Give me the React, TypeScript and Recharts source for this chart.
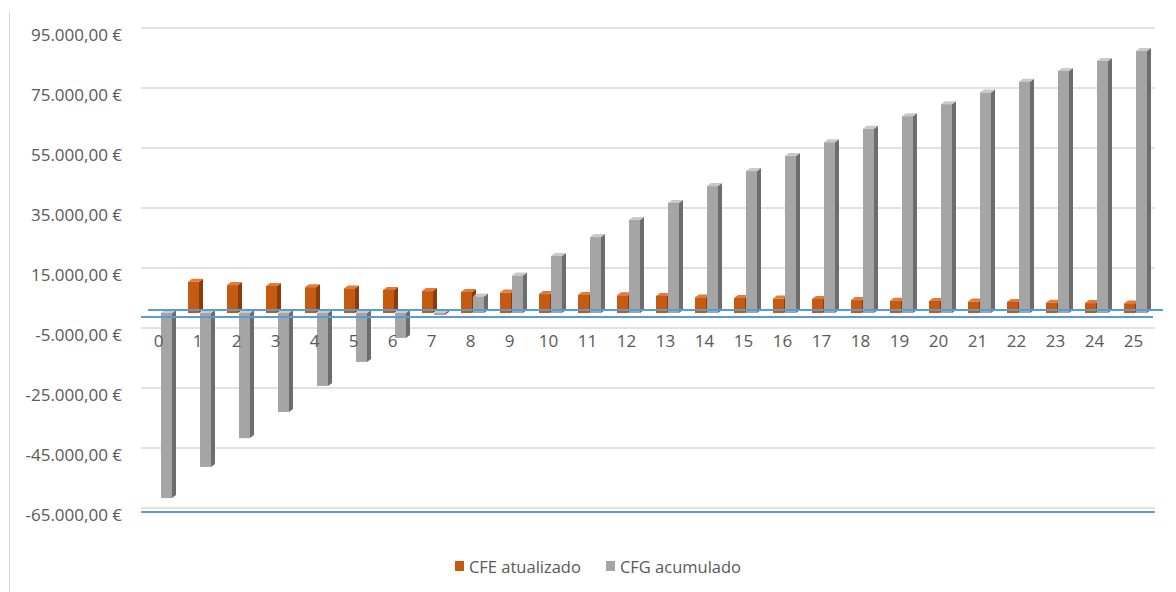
import { BarChart, Bar, XAxis, YAxis, CartesianGrid, Legend, ReferenceLine } from 'recharts';

// anos do projeto
const anos = ['0', '1', '2', '3', '4', '5', '6', '7', '8', '9', '10', '11', '12', '13', '14', '15', '16', '17', '18', '19', '20', '21', '22', '23', '24', '25'];

// cash-flow de exploração atualizado (ano 0 sem valor)
const cfeAtualizado = [null, 10400, 9300, 9000, 8600, 8200, 7700, 7300, 7000, 6800, 6300, 6000, 5900, 5700, 5200, 5000, 4800, 4700, 4300, 4100, 4000, 3800, 3700, 3400, 3300, 3200];

// cash-flow global acumulado
const cfgAcumulado = [-61700, -51300, -41700, -33000, -24300, -16300, -8300, -700, 5500, 12500, 19000, 25300, 31000, 36700, 42300, 47300, 52300, 56900, 61400, 65600, 69600, 73500, 77100, 80700, 84000, 87300];

const yTicks = [-65000, -45000, -25000, -5000, 15000, 35000, 55000, 75000, 95000];

const Y_MIN = -65000;
const Y_MAX = 95000;

const CHART_W = 1168;
const CHART_H = 584;
const MARGIN = { top: 20, right: 21, left: 0, bottom: 14 };
const X_AXIS_H = 46;
const LEGEND_H = 24;
const PLOT_H = CHART_H - MARGIN.top - MARGIN.bottom - X_AXIS_H - LEGEND_H;

const FONT = '"Open Sans", sans-serif';
const TEXT = '#595959';
const GRID = '#d9d9d9';
const BLUE = '#5b9bd5';

const LARANJA = { front: '#c55a11', side: '#8a3c0a', top: '#e07b3c' };
const CINZA = { front: '#a5a5a5', side: '#6d6d6d', top: '#c9c9c9' };

const data = anos.map((ano, i) => ({
  ano,
  cfe: cfeAtualizado[i],
  cfg: cfgAcumulado[i],
}));

const formatEuro = (v: number) => {
  const [int, dec] = Math.abs(v).toFixed(2).split('.');
  const grouped = int.replace(/\B(?=(\d{3})+(?!\d))/g, '.');
  return `${v < 0 ? '-' : ''}${grouped},${dec} €`;
};

// coluna com face lateral e topo, estilo gráfico 3D do Excel
function Coluna3D(props: any) {
  const { x, y, width, height, colors } = props;
  if (x == null || !width || height == null) return null;
  const h = Math.abs(height);
  const y0 = height < 0 ? y + height : y;
  const dx = 4;
  const dy = 3;
  return (
    <g>
      <polygon
        points={`${x + width},${y0} ${x + width + dx},${y0 - dy} ${x + width + dx},${y0 + h - dy} ${x + width},${y0 + h}`}
        fill={colors.side}
      />
      <polygon
        points={`${x},${y0} ${x + dx},${y0 - dy} ${x + width + dx},${y0 - dy} ${x + width},${y0}`}
        fill={colors.top}
      />
      <rect x={x} y={y0} width={width} height={h} fill={colors.front} />
    </g>
  );
}

function YTick(props: any) {
  const { x, y, payload } = props;
  return (
    <text x={x} y={y + 7} dy="0.355em" textAnchor="end" fill={TEXT} fontSize={17} fontFamily={FONT}>
      {formatEuro(payload.value)}
    </text>
  );
}

// os rótulos das categorias ficam junto ao eixo do zero, não no fundo
const zeroOffset = (PLOT_H * (0 - Y_MIN)) / (Y_MAX - Y_MIN);

function XTick(props: any) {
  const { x, y, payload } = props;
  return (
    <text x={x - 2} y={y - zeroOffset + 28} dy="0.355em" textAnchor="middle" fill={TEXT} fontSize={17} fontFamily={FONT}>
      {payload.value}
    </text>
  );
}

// linhas azuis do pavimento (aresta de trás e da frente)
function Pavimento(props: any) {
  const { x1, x2, y1 } = props;
  return (
    <g>
      <line x1={x1 + 7} x2={x2 + 8} y1={y1 - 3} y2={y1 - 3} stroke={BLUE} strokeWidth={2} />
      <line x1={x1} x2={x2 - 2} y1={y1 + 4} y2={y1 + 4} stroke={BLUE} strokeWidth={2} />
    </g>
  );
}

function Base(props: any) {
  const { x1, x2, y1 } = props;
  return <line x1={x1} x2={x2} y1={y1 + 4} y2={y1 + 4} stroke={BLUE} strokeWidth={2} />;
}

function Legenda(props: any) {
  const items = props.payload || [];
  return (
    <div
      style={{
        display: 'flex',
        justifyContent: 'center',
        alignItems: 'center',
        height: LEGEND_H,
        paddingLeft: 33,
        fontFamily: FONT,
        fontSize: 16.5,
        color: TEXT,
      }}
    >
      {items.map((item: any, i: number) => (
        <div key={i} style={{ display: 'flex', alignItems: 'center', marginRight: i === 0 ? 25 : 0 }}>
          <span style={{ width: 9, height: 10, background: item.color, marginRight: 5, display: 'inline-block' }} />
          <span>{item.value}</span>
        </div>
      ))}
    </div>
  );
}

export default function App() {
  return (
    <div style={{ position: 'relative', width: CHART_W, height: CHART_H, background: '#fff' }}>
      <div style={{ position: 'absolute', left: 1, top: 4, bottom: 0, width: 1, background: GRID }} />
      <BarChart width={CHART_W} height={CHART_H} data={data} margin={MARGIN} barSize={11} barGap={1}>
        <CartesianGrid vertical={false} stroke={GRID} strokeWidth={1.5} />
        <XAxis
          dataKey="ano"
          height={X_AXIS_H}
          axisLine={false}
          tickLine={false}
          tickSize={0}
          tickMargin={0}
          interval={0}
          tick={<XTick />}
        />
        <YAxis
          width={133}
          domain={[Y_MIN, Y_MAX]}
          ticks={yTicks}
          axisLine={false}
          tickLine={false}
          tickSize={0}
          tickMargin={19}
          interval={0}
          tick={<YTick />}
        />
        <Legend verticalAlign="bottom" content={<Legenda />} />
        <ReferenceLine y={0} shape={<Pavimento />} ifOverflow="visible" />
        <ReferenceLine y={Y_MIN} shape={<Base />} ifOverflow="visible" />
        <Bar
          dataKey="cfe"
          name="CFE atualizado"
          fill={LARANJA.front}
          isAnimationActive={false}
          shape={(p: any) => <Coluna3D {...p} colors={LARANJA} />}
        />
        <Bar
          dataKey="cfg"
          name="CFG acumulado"
          fill={CINZA.front}
          isAnimationActive={false}
          shape={(p: any) => <Coluna3D {...p} colors={CINZA} />}
        />
      </BarChart>
    </div>
  );
}
